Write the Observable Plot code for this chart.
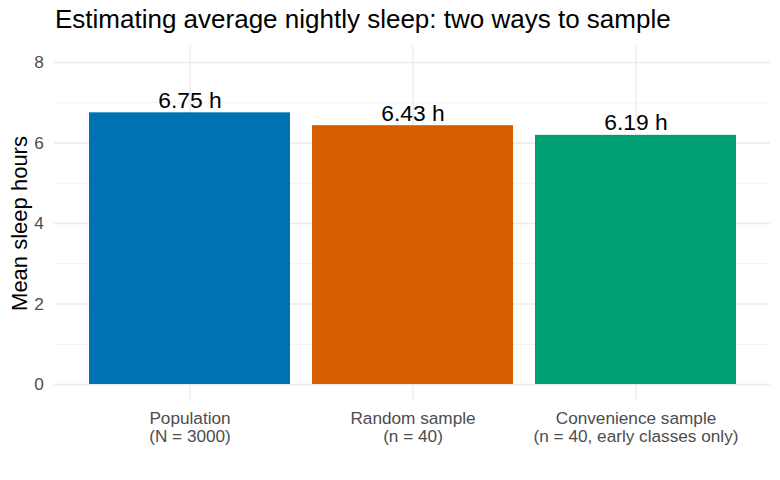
<!DOCTYPE html>
<html>
<head>
<meta charset="utf-8">
<script src="https://cdn.jsdelivr.net/npm/d3@7"></script>
<script src="https://cdn.jsdelivr.net/npm/@observablehq/plot@0.6"></script>
<style>
  html, body { margin: 0; padding: 0; background: #fff; }
  #wrap { position: relative; width: 780px; height: 480px; font-family: "Liberation Sans", Arial, sans-serif; }
  #title { position: absolute; left: 55px; top: 4px; font-size: 26px; color: #000; white-space: nowrap; }
  #chart { position: absolute; left: 0; top: 40px; }
</style>
</head>
<body>
<div id="wrap">
  <div id="title">Estimating average nightly sleep: two ways to sample</div>
  <div id="chart"></div>
</div>
<script>
const categories = ["Population", "Random sample", "Convenience sample"];
const categoryLabels = ["Population\n(N = 3000)", "Random sample\n(n = 40)", "Convenience sample\n(n = 40, early classes only)"];
const meanHours = [6.75, 6.43, 6.19];
const colors = ["#0072B2", "#D55E00", "#009E73"];
const majorTicks = [0, 2, 4, 6, 8];
const minorTicks = [1, 3, 5, 7];

const data = categories.map((c, i) => ({category: c, label: categoryLabels[i], value: meanHours[i], color: colors[i]}));
const yMax = 8, pad = 0.05 * yMax;

const chart = Plot.plot({
  width: 780,
  height: 440,
  marginLeft: 54.4,
  marginRight: 10.4,
  marginTop: 5.9,
  marginBottom: 79.9,
  style: {fontFamily: "'Liberation Sans', Arial, sans-serif", background: "#fff"},
  x: {domain: categories, paddingInner: 0.1, paddingOuter: 0.15, axis: null},
  y: {domain: [-pad, yMax + pad], axis: null},
  marks: [
    Plot.ruleY(minorTicks, {stroke: "#EBEBEB", strokeWidth: 0.7}),
    Plot.ruleY(majorTicks, {stroke: "#EBEBEB", strokeWidth: 1.3}),
    Plot.ruleX(categories, {x: d => d, stroke: "#EBEBEB", strokeWidth: 1.3}),
    Plot.barY(data, {x: "category", y1: 0, y2: "value", fill: "color"}),
    Plot.text(data, {x: "category", y: "value", text: d => d3.format(".2f")(d.value) + " h", lineAnchor: "bottom", dy: -5, fontSize: 22.8, fill: "#000"}),
    Plot.axisY(majorTicks, {tickSize: 0, tickPadding: 11, fontSize: 17.2, color: "#4D4D4D", label: null}),
    Plot.axisX(categories, {tickSize: 0, tickPadding: 10.5, fontSize: 17.2, color: "#4D4D4D", label: null, lineHeight: 1.05, tickFormat: d => categoryLabels[categories.indexOf(d)]}),
    Plot.text(["Mean sleep hours"], {frameAnchor: "left", textAnchor: "middle", rotate: -90, dx: -35, fontSize: 22, fill: "#000"})
  ]
});
document.getElementById("chart").appendChild(chart);
</script>
</body>
</html>
